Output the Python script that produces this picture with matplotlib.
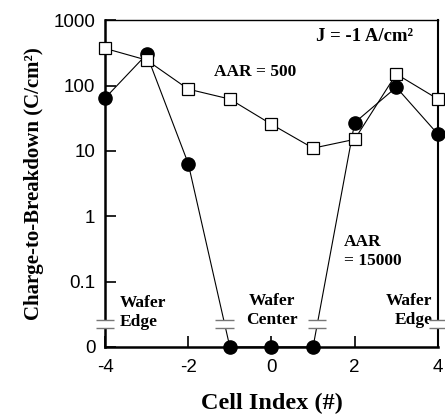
import numpy as np
import matplotlib.pyplot as plt
from matplotlib.patches import Rectangle

plt.rcParams['axes.unicode_minus'] = False

# --- Data ---
cell_index = [-4, -3, -2, -1, 0, 1, 2, 3, 4]
aar_500 = [370, 245, 88, 62, 25.5, 11, 15, 150, 62]
aar_15000 = [64, 300, 6.4, 0, 0, 0, 27, 94, 18]

ZERO_POS = 0.01      # where "0" sits on the log axis
BREAK_Y = 0.0225     # height of the axis-break marks
y_ticks = [ZERO_POS, 0.1, 1, 10, 100, 1000]
y_tick_labels = ['0', '0.1', '1', '10', '100', '1000']
x_ticks = [-4, -2, 0, 2, 4]

SERIF = ['Liberation Serif', 'DejaVu Serif']
SANS = ['Liberation Sans', 'DejaVu Sans']

fig = plt.figure(figsize=(4.45, 4.2), dpi=100)
ax = fig.add_axes([0.236, 0.174, 0.748, 0.778])

y15 = [v if v > 0 else ZERO_POS for v in aar_15000]

ax.plot(cell_index, y15, color='black', lw=0.8, marker='o', ms=9.5,
        mfc='black', mec='black', clip_on=False, zorder=3)
ax.plot(cell_index, aar_500, color='black', lw=0.8, marker='s', ms=8.5,
        mfc='white', mec='black', mew=0.9, clip_on=False, zorder=4)

ax.set_yscale('log')
ax.set_ylim(ZERO_POS, 1000)
ax.set_xlim(-4, 4)
ax.set_yticks(y_ticks)
ax.set_yticklabels(y_tick_labels)
ax.yaxis.set_minor_locator(plt.NullLocator())
ax.set_xticks(x_ticks)

ax.tick_params(direction='in', length=8, width=1.2, labelsize=13.5)
ax.tick_params(axis='x', pad=9)
ax.tick_params(axis='y', pad=7)
for lab in ax.get_xticklabels() + ax.get_yticklabels():
    lab.set_family(SANS)

ax.spines['left'].set_linewidth(1.8)
ax.spines['bottom'].set_linewidth(1.8)
ax.spines['right'].set_linewidth(1.5)
ax.spines['top'].set_linewidth(1.0)

ax.set_ylabel('Charge-to-Breakdown (C/cm²)', family=SERIF,
              fontweight='bold', fontsize=15, labelpad=7)
ax.set_xlabel('Cell Index (#)', family=SERIF, fontweight='bold',
              fontsize=17.5, labelpad=12)

# --- axis break marks ---
def break_x(x0, y0, x1, y1, yb):
    # x where segment crosses yb (log interpolation)
    t = (np.log10(yb) - np.log10(y0)) / (np.log10(y1) - np.log10(y0))
    return x0 + t * (x1 - x0)

breaks = [cell_index[0], cell_index[-1]]
breaks.append(break_x(cell_index[2], y15[2], cell_index[3], y15[3], BREAK_Y))
breaks.append(break_x(cell_index[5], y15[5], cell_index[6], y15[6], BREAK_Y))

hw = 0.22
gap = 10 ** 0.065
for xb in breaks:
    ax.add_patch(Rectangle((xb - hw, BREAK_Y / gap), 2 * hw,
                           BREAK_Y * gap - BREAK_Y / gap,
                           facecolor='white', edgecolor='none',
                           clip_on=False, zorder=5))
    for yy in (BREAK_Y / gap, BREAK_Y * gap):
        ax.plot([xb - hw, xb + hw], [yy, yy], color='#777777', lw=1.0,
                clip_on=False, zorder=6, solid_capstyle='butt')

# --- annotations ---
txt = dict(family=SERIF, fontweight='bold', fontsize=12.5)
ax.text(3.4, 560, 'J = -1 A/cm²', ha='right', va='center',
        family=SERIF, fontweight='bold', fontsize=13.5)
ax.text(-0.4, 160, 'AAR = 500', ha='center', va='center', **txt)
ax.text(1.75, 0.29, 'AAR\n= 15000', ha='left', va='center',
        linespacing=1.25, **txt)
ax.text(-3.64, 0.034, 'Wafer\nEdge', ha='left', va='center',
        linespacing=1.25, **txt)
ax.text(0.0, 0.036, 'Wafer\nCenter', ha='center', va='center',
        linespacing=1.25, **txt)
ax.text(3.87, 0.036, 'Wafer\nEdge', ha='right', va='center',
        linespacing=1.25, **txt)

fig.savefig('out.png', dpi=100)
